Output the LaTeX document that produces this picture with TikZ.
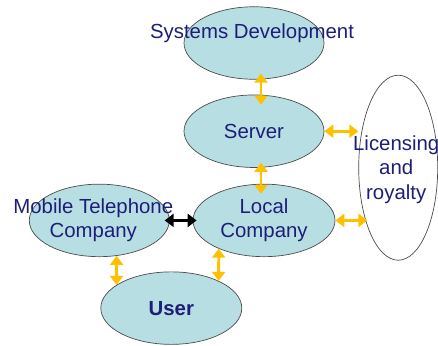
\documentclass[tikz,border=0pt]{standalone}
\usepackage{fontspec}
\setmainfont{Liberation Sans}
\usetikzlibrary{positioning, arrows.meta, calc, shapes.geometric}

\definecolor{bubfill}{RGB}{183,223,227}
\definecolor{bubtext}{RGB}{30,30,120}
\definecolor{linkyellow}{RGB}{255,192,0}

\begin{document}
\begin{tikzpicture}[
        % --- stiluri ---
        % 1. Elipsele albastre
        bub/.style={
                ellipse,
                draw=black!70,
                fill=bubfill,
                inner sep=0pt,
                minimum width=2.8cm,
                minimum height=1.45cm,
                align=center,
                text=bubtext,
                font=\fontsize{11.6pt}{14pt}\selectfont
            },
        % 2. Textele care ies din elipsa
        txt/.style={
                align=center,
                text=bubtext,
                font=\fontsize{11.6pt}{14pt}\selectfont
            },
        % 3. Legaturile (sageti duble)
        link/.style={
                line width=1.6pt,
                draw=linkyellow,
                {Triangle[length=1.8mm,width=2.6mm]}-{Triangle[length=1.8mm,width=2.6mm]}
            }
    ]
    \useasboundingbox (0,0) rectangle (8.76,-6.9);

    % 1. Elipsele
    \node[bub] (sd) at (5.08,-0.86) {};
    \node[bub, below=0.3cm of sd] (srv) {Server};
    \node[bub, below=0.32cm of srv, xshift=0.2cm, minimum width=2.84cm] (loc) {Local\\Company};
    \node[bub, left=0.46cm of loc] (mob) {};
    \node[bub, below=0.29cm of mob, xshift=1.44cm, minimum width=2.82cm] (user) {\textbf{User}};
    \node[bub, fill=white, right=0.68cm of srv, yshift=-0.73cm,
        minimum width=1.58cm, minimum height=3.7cm] (lic) {};

    % 2. Textele late
    \node[txt] (sdtxt) at ([yshift=0.2cm, xshift=-0.04cm]sd.center) {Systems Development};
    \node[txt] (mobtxt) at ([xshift=-0.12cm]mob.center) {Mobile Telephone\\Company};
    \node[txt] (lictxt) at ([xshift=-0.04cm, yshift=-0.04cm]lic.center) {Licensing\\and\\royalty};

    % 3. Legaturile
    \draw[link, shorten <=-0.12cm, shorten >=-0.2cm]
    ([xshift=0.14cm]sd.south) -- ([xshift=0.14cm]srv.north);
    \draw[link, shorten <=-0.1cm, shorten >=-0.2cm]
    ([xshift=0.14cm]srv.south) -- ([xshift=-0.06cm]loc.north);
    \draw[link] (srv.east) -- (srv.east -| lic.west);
    \draw[link, shorten >=-0.18cm] (loc.east) -- (loc.east -| lic.west);
    \draw[link, draw=black, shorten <=-0.1cm, shorten >=-0.08cm] (mob.east) -- (loc.west);
    \draw[link] (mob.296) -- (user.157);
    \draw[link] (loc.212) -- (user.30);

\end{tikzpicture}
\end{document}
